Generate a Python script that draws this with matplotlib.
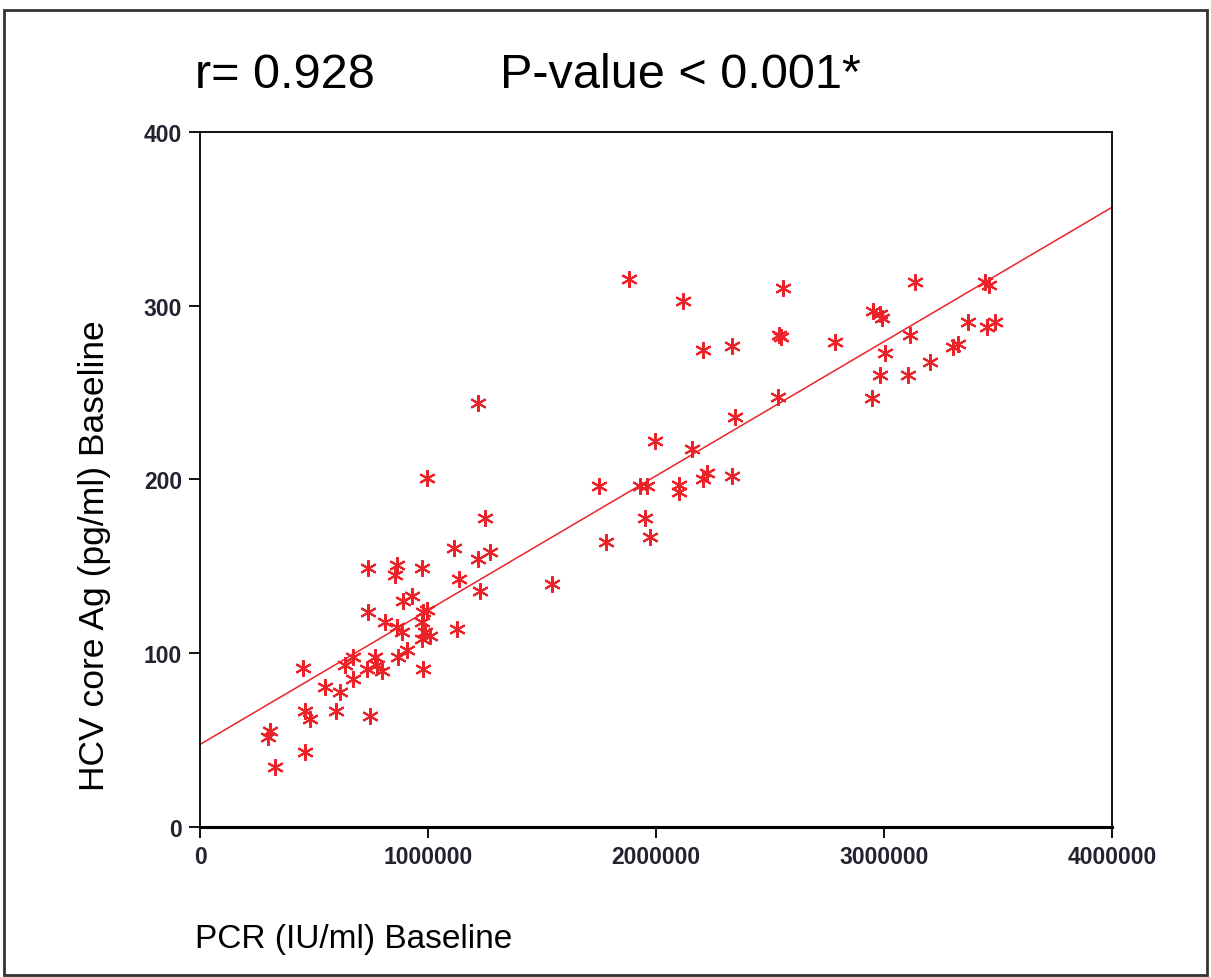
import numpy as np
import matplotlib
matplotlib.use('Agg')
import matplotlib.pyplot as plt
from matplotlib.patches import Rectangle

# PCR (IU/ml) baseline values
pcr = [307000, 300000, 329000, 452000, 461000, 482000, 461000, 548000, 596000, 614000,
       636000, 671000, 671000, 732000, 737000, 737000, 746000, 768000, 776000, 798000,
       811000, 855000, 864000, 864000, 868000, 886000, 890000, 908000, 930000, 974000,
       974000, 974000, 978000, 978000, 987000, 995000, 995000, 1009000, 1114000, 1127000,
       1136000, 1220000, 1220000, 1228000, 1250000, 1270000, 1544000, 1750000, 1781000, 1882000,
       1930000, 1952000, 1960000, 1974000, 1996000, 2100000, 2100000, 2118000, 2158000, 2206000,
       2206000, 2224000, 2333000, 2333000, 2347000, 2535000, 2540000, 2550000, 2557000, 2785000,
       2947000, 2950000, 2982000, 2982000, 2990000, 3004000, 3105000, 3114000, 3136000, 3202000,
       3303000, 3325000, 3368000, 3443000, 3460000, 3452000, 3487000]

# HCV core Ag (pg/ml) baseline values
core_ag = [55, 52, 34.5, 91.5, 67, 62, 43, 80.5, 67, 77.7,
           93, 98, 85, 91, 149, 124, 64, 98, 93, 90,
           118, 145, 151, 115, 98, 112, 130, 102, 133, 149,
           118, 108, 124, 91, 112, 201, 125, 110, 160.6, 114,
           143, 244, 154, 136, 178, 158, 140, 196, 164, 315.5,
           196, 178, 196, 167, 222, 197, 193, 303, 217.5, 274.5,
           200, 204, 277, 202, 236, 247.5, 283, 282, 310, 279,
           247, 297, 295, 260, 293, 273, 260, 283, 313.5, 267.6,
           276, 278, 290.6, 313.7, 312, 288, 290.6]

# regression line
fit_intercept = 47.5
fit_slope = 7.73e-5

red = '#ec2229'
sans = ['Liberation Sans', 'DejaVu Sans']

fig = plt.figure(figsize=(12.11, 9.78), dpi=100)
ax = fig.add_axes([0.1652, 0.1534, 0.7531, 0.7106])

ax.plot(pcr, core_ag, linestyle='none', marker=(6, 2, 0), markersize=12,
        markeredgewidth=1.5, color=red)

xs = np.array([0, 4000000])
ax.plot(xs, fit_intercept + fit_slope * xs, color=red, linewidth=1.1)

ax.set_xlim(0, 4000000)
ax.set_ylim(0, 400)
ax.set_xticks([0, 1000000, 2000000, 3000000, 4000000])
ax.set_xticklabels(['0', '1000000', '2000000', '3000000', '4000000'])
ax.set_yticks([0, 100, 200, 300, 400])

for lab in ax.get_xticklabels() + ax.get_yticklabels():
    lab.set_family(sans)
    lab.set_size(16.5)
    lab.set_weight('bold')
    lab.set_color('#262030')

ax.tick_params(direction='out', length=8, width=1.3, pad=5)
for side in ['top', 'right', 'left']:
    ax.spines[side].set_linewidth(1.3)
ax.spines['bottom'].set_linewidth(2.2)

fig.text(0.078, 0.432, 'HCV core Ag (pg/ml) Baseline', rotation=90, ha='center', va='center',
         fontsize=25.5, family=sans)
fig.text(0.161, 0.039, 'PCR (IU/ml) Baseline', ha='left', va='center',
         fontsize=24, family=sans)

fig.text(0.161, 0.923, 'r= 0.928', ha='left', va='center', fontsize=35, family=sans)
fig.text(0.413, 0.923, 'P-value < 0.001*', ha='left', va='center', fontsize=35, family=sans)

# outer frame around the figure
fig.patches.append(Rectangle((0.003, 0.002), 0.994, 0.987, transform=fig.transFigure,
                             fill=False, edgecolor='#333333', linewidth=2))

fig.savefig('out.png', dpi=100)
